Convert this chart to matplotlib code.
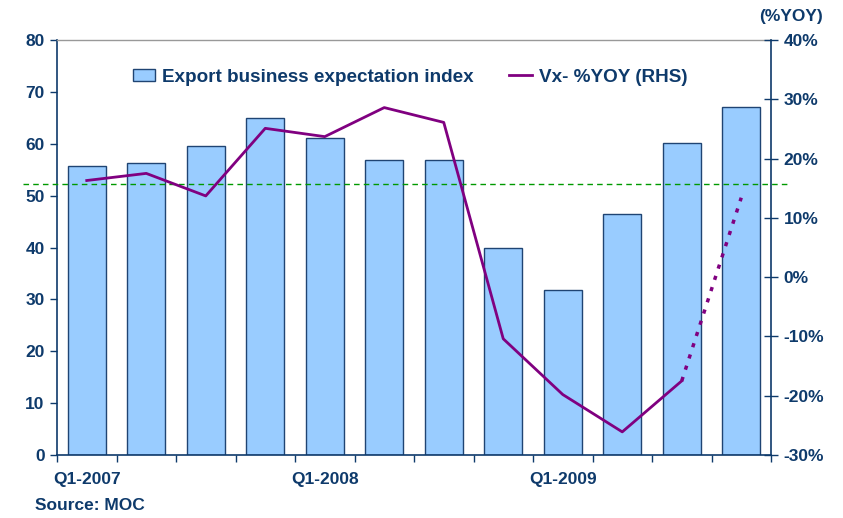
import matplotlib
matplotlib.use("Agg")
import matplotlib.pyplot as plt
import numpy as np
from matplotlib.lines import Line2D
from matplotlib.patches import Patch

plt.rcParams['font.family'] = ['Liberation Sans', 'DejaVu Sans']
plt.rcParams['font.weight'] = 'bold'

categories = ["Q1-2007", "Q2-2007", "Q3-2007", "Q4-2007",
              "Q1-2008", "Q2-2008", "Q3-2008", "Q4-2008",
              "Q1-2009", "Q2-2009", "Q3-2009", "Q4-2009"]
index_values = [55.8, 56.2, 59.6, 64.9, 61.2, 56.9, 56.9, 40.0, 31.8, 46.5, 60.2, 67.1]
yoy_values = [16.3, 17.5, 13.7, 25.1, 23.7, 28.6, 26.1, -10.4, -19.8, -26.1, -17.5, 13.4]
threshold = 52.2
left_ticks = [0, 10, 20, 30, 40, 50, 60, 70, 80]
right_ticks = [-30, -20, -10, 0, 10, 20, 30, 40]
shown_labels = {0: "Q1-2007", 4: "Q1-2008", 8: "Q1-2009"}

navy = '#0E3A6B'
fs = 12.5
leg_fs = 13.6

fig = plt.figure(figsize=(8.43, 5.18), dpi=100)
ax = fig.add_axes([57/843, 1-455/518, (771-57)/843, (455-40)/518])
n = len(categories)
x = np.arange(n)
ax.bar(x, index_values, width=0.64, color='#99CCFF', edgecolor='#1F4473', linewidth=1.0, zorder=2)
ax.set_xlim(-0.5, n-0.5)
ax.set_ylim(0, 80)
ax.set_yticks(left_ticks)
ax.set_yticklabels([str(t) for t in left_ticks], fontsize=fs, color=navy, fontweight='bold')
ax.tick_params(axis='y', direction='out', length=5, color=navy, width=1, pad=4)

# x ticks at boundaries, labels at centers
ax.set_xticks(np.arange(n+1) - 0.5)
ax.set_xticklabels([])
ax.tick_params(axis='x', which='major', direction='out', length=5, color=navy, width=1)
ax.set_xticks(x, minor=True)
ax.set_xticklabels([shown_labels.get(i, "") for i in range(n)], minor=True,
                   fontsize=fs, color=navy, fontweight='bold')
ax.tick_params(axis='x', which='minor', length=0, pad=12)

for s in ['left', 'bottom']:
    ax.spines[s].set_color(navy)
    ax.spines[s].set_linewidth(1.2)
ax.spines['top'].set_color('#999999')
ax.spines['top'].set_linewidth(1.0)
ax.spines['right'].set_visible(False)

# threshold dashed line extending beyond axes
ax.plot([-0.5 - (57-23)/59.5, n-0.5 + (791-771)/59.5], [threshold, threshold],
        color='#009900', linestyle=(0, (4, 3)), linewidth=1.0, clip_on=False, zorder=4)

ax2 = ax.twinx()
ax2.set_ylim(-30, 40)
ax2.set_yticks(right_ticks)
ax2.set_yticklabels([f"{t}%" for t in right_ticks], fontsize=fs, color=navy, fontweight='bold')
ax2.tick_params(axis='y', direction='inout', length=10, color=navy, width=1, pad=4)
for s in ['left', 'top', 'bottom']:
    ax2.spines[s].set_visible(False)
ax2.spines['right'].set_color(navy)
ax2.spines['right'].set_linewidth(1.2)

ax2.plot(x[:-1], yoy_values[:-1], color='#800080', linewidth=2.0, zorder=5)
ax2.plot(x[-2:], yoy_values[-2:], color='#800080', linewidth=2.5,
         linestyle=(0, (1.2, 2.2)), zorder=5)

handles = [Patch(facecolor='#99CCFF', edgecolor='#1F4473', linewidth=1.0),
           Line2D([0], [0], color='#800080', linewidth=2.0)]
leg = ax2.legend(handles, ["Export business expectation index", "Vx- %YOY (RHS)"],
                 ncol=2, frameon=False, loc='center', bbox_to_anchor=(410/843, 1-77/518),
                 bbox_transform=fig.transFigure, prop={'size': leg_fs, 'weight': 'bold'},
                 handlelength=1.2, handleheight=0.65, handletextpad=0.35, columnspacing=1.9)
for t in leg.get_texts():
    t.set_color(navy)

fig.text(791/843, 1-17/518, "(%YOY)", ha='center', va='center', fontsize=fs,
         color=navy, fontweight='bold')
fig.text(35/843, 1-506/518, "Source: MOC", ha='left', va='center', fontsize=fs,
         color=navy, fontweight='bold')

fig.savefig("out.png", dpi=100)
